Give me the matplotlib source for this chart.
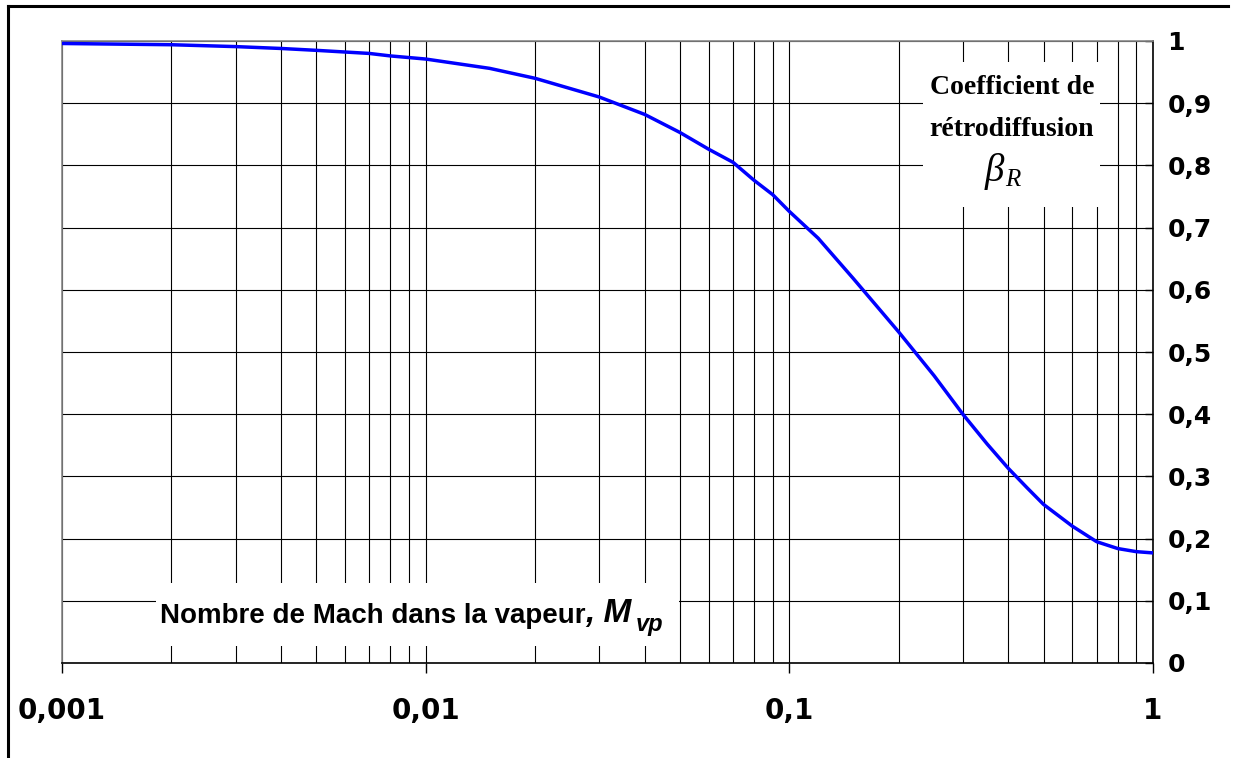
import numpy as np
import matplotlib.pyplot as plt
from matplotlib.patches import Rectangle
from matplotlib.lines import Line2D
from matplotlib.ticker import FixedLocator, NullFormatter, LogLocator

# Coefficient de rétrodiffusion en fonction du nombre de Mach
mach = [0.001, 0.002, 0.003, 0.004, 0.005, 0.007, 0.008, 0.01, 0.015, 0.02, 0.03,
        0.04, 0.05, 0.06, 0.07, 0.08, 0.09, 0.1, 0.12, 0.15, 0.2, 0.25, 0.3,
        0.35, 0.4, 0.45, 0.5, 0.6, 0.7, 0.8, 0.9, 1.0]
beta = [0.996, 0.994, 0.991, 0.988, 0.985, 0.980, 0.976, 0.971, 0.956, 0.940, 0.910,
        0.882, 0.853, 0.826, 0.805, 0.776, 0.753, 0.726, 0.683, 0.618, 0.532, 0.462, 0.400,
        0.352, 0.313, 0.282, 0.255, 0.220, 0.195, 0.184, 0.179, 0.177]

x_ticks = [0.001, 0.01, 0.1, 1]
x_labels = ["0,001", "0,01", "0,1", "1"]
y_ticks = [0, 0.1, 0.2, 0.3, 0.4, 0.5, 0.6, 0.7, 0.8, 0.9, 1.0]
y_labels = ["0", "0,1", "0,2", "0,3", "0,4", "0,5", "0,6", "0,7", "0,8", "0,9", "1"]

W, H = 1233, 758
fig = plt.figure(figsize=(W / 100, H / 100), dpi=100)
ax = fig.add_axes([62 / W, 1 - 663 / H, (1153 - 62) / W, (663 - 41) / H])

ax.set_xscale('log')
ax.set_xlim(0.001, 1)
ax.set_ylim(0, 1)

# grille
ax.xaxis.set_major_locator(FixedLocator(x_ticks))
ax.xaxis.set_minor_locator(LogLocator(base=10, subs=np.arange(2, 10)))
ax.xaxis.set_minor_formatter(NullFormatter())
ax.set_xticks(x_ticks, x_labels)
ax.set_yticks(y_ticks, y_labels)
ax.grid(True, which='both', axis='x', color='black', lw=0.8)
ax.grid(True, which='major', axis='y', color='black', lw=0.8)

ax.plot(mach, beta, color='#0000ff', lw=2.5, zorder=3)

ax.yaxis.tick_right()
ax.tick_params(axis='y', direction='in', length=6, width=1, pad=10.5, labelsize=18)
ax.tick_params(axis='x', which='major', direction='out', length=7.5, width=1, pad=17, labelsize=20)
ax.tick_params(axis='x', which='minor', length=0)
for lab in ax.get_xticklabels() + ax.get_yticklabels():
    lab.set_fontfamily('DejaVu Sans')
    lab.set_fontweight('bold')

for side in ['left', 'top']:
    ax.spines[side].set_color('#888888')
for side in ['right', 'bottom']:
    ax.spines[side].set_color('black')
for sp in ax.spines.values():
    sp.set_linewidth(1.2)

# cadres blancs derrière les légendes
def fig_rect(x0, y0, x1, y1):
    return Rectangle((x0 / W, 1 - y1 / H), (x1 - x0) / W, (y1 - y0) / H,
                     transform=fig.transFigure, facecolor='white', edgecolor='none',
                     zorder=5, clip_on=False)

ax.add_patch(fig_rect(156, 583, 679, 646))
ax.add_patch(fig_rect(923, 62, 1100, 207))

# texte axe x
t1 = ax.text(160 / W, 1 - 623 / H, "Nombre de Mach dans la vapeur", transform=fig.transFigure,
             family='Liberation Sans', weight='bold', fontsize=20, va='baseline', ha='left', zorder=6)
t2 = ax.annotate(", M", xy=(1, 0), xycoords=t1, xytext=(0, 0), textcoords='offset points',
                 family='Liberation Sans', weight='bold', style='italic', fontsize=24,
                 va='bottom', ha='left', zorder=6, annotation_clip=False)
t3 = ax.annotate("vp", xy=(1, 0), xycoords=t2, xytext=(3, -5), textcoords='offset points',
                 family='Liberation Sans', weight='bold', style='italic', fontsize=17,
                 va='bottom', ha='left', zorder=6, annotation_clip=False)

# texte axe y
ax.text(1012 / W, 1 - 88 / H, "Coefficient de", transform=fig.transFigure,
        family='Liberation Serif', weight='bold', fontsize=20, va='center', ha='center', zorder=6)
ax.text(1012 / W, 1 - 130 / H, "rétrodiffusion", transform=fig.transFigure,
        family='Liberation Serif', weight='bold', fontsize=20, va='center', ha='center', zorder=6)
ax.text(1004 / W, 1 - 171 / H, "β", transform=fig.transFigure,
        family='Liberation Serif', style='italic', fontsize=28, va='center', ha='right', zorder=6)
ax.text(1005 / W, 1 - 180 / H, "R", transform=fig.transFigure,
        family='Liberation Serif', style='italic', fontsize=18, va='center', ha='left', zorder=6)

# bordure extérieure
fig.add_artist(Line2D([8 / W, 8 / W], [0, 1 - 6 / H], transform=fig.transFigure, color='black', lw=2.2))
fig.add_artist(Line2D([8 / W, 1228 / W], [1 - 6 / H, 1 - 6 / H], transform=fig.transFigure, color='black', lw=2.2))

fig.savefig('out.png', dpi=100)
